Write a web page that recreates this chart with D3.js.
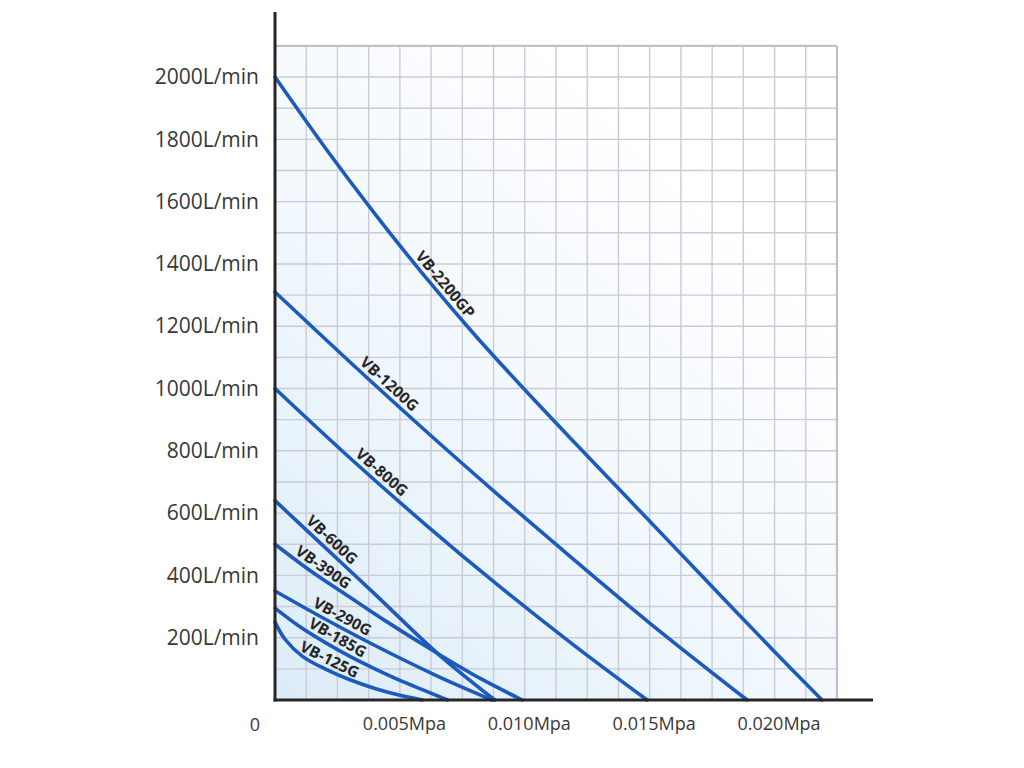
<!DOCTYPE html>
<html>
<head>
<meta charset="utf-8">
<script src="https://cdn.jsdelivr.net/npm/d3@7"></script>
<style>
  html, body { margin: 0; padding: 0; background: #ffffff; }
  svg { display: block; }
</style>
</head>
<body>
<svg id="chart" width="1024" height="768"></svg>
<script>
// ---- data (pressure in MPa, flow in L/min) ----
const seriesNames = ["VB-2200GP", "VB-1200G", "VB-800G", "VB-600G", "VB-390G", "VB-290G", "VB-185G", "VB-125G"];
const vb2200gp = [[0,2000],[0.002,1774],[0.004,1561],[0.006,1360],[0.008,1172],[0.010,996],[0.012,826],[0.014,658],[0.016,490],[0.018,322],[0.020,155],[0.0219,0]];
const vb1200g  = [[0,1310],[0.003,1085],[0.006,866],[0.009,654],[0.012,448],[0.015,247],[0.0189,0]];
const vb800g   = [[0,1000],[0.003,777],[0.006,565],[0.009,364],[0.012,174],[0.0149,0]];
const vb600g   = [[0,640],[0.002,490],[0.004,340],[0.0065,150],[0.0088,0]];
const vb390g   = [[0,500],[0.0015,410],[0.003,330],[0.0045,250],[0.0065,150],[0.0082,70],[0.0099,0]];
const vb290g   = [[0,350],[0.002,260],[0.004,175],[0.0065,77],[0.0087,0]];
const vb185g   = [[0,295],[0.001,235],[0.002,185],[0.003,140],[0.004,100],[0.005,63],[0.006,30],[0.0069,0]];
const vb125g   = [[0,250],[0.0004,195],[0.0011,140],[0.002,100],[0.003,65],[0.004,37],[0.005,15],[0.0059,0]];
const seriesValues = [vb2200gp, vb1200g, vb800g, vb600g, vb390g, vb290g, vb185g, vb125g];
const labelAt = [0.0065, 0.0043, 0.0040, 0.0020, 0.0017, 0.0025, 0.0023, 0.0020]; // MPa where each name sits

const yTickValues = [200,400,600,800,1000,1200,1400,1600,1800,2000];
const yTickLabels = ["200L/min","400L/min","600L/min","800L/min","1000L/min","1200L/min","1400L/min","1600L/min","1800L/min","2000L/min"];
const xTickValues = [0.005, 0.010, 0.015, 0.020];
const xTickLabels = ["0.005Mpa","0.010Mpa","0.015Mpa","0.020Mpa"];
const xMax = 0.0225, yMax = 2100, xStep = 0.00125, yStep = 100;

// ---- layout ----
const svg = d3.select("#chart");
const x = d3.scaleLinear().domain([0, xMax]).range([275, 837]);
const y = d3.scaleLinear().domain([0, yMax]).range([700, 45.9]);

// background gradient
const defs = svg.append("defs");
const grad = defs.append("linearGradient").attr("id","bg")
  .attr("x1","0").attr("y1","1").attr("x2","0.7").attr("y2","0.15");
grad.append("stop").attr("offset","0").attr("stop-color","#dcecf8");
grad.append("stop").attr("offset","0.5").attr("stop-color","#f0f7fc");
grad.append("stop").attr("offset","1").attr("stop-color","#ffffff");

svg.append("rect")
  .attr("x", x(0)).attr("y", y(yMax))
  .attr("width", x(xMax)-x(0)).attr("height", y(0)-y(yMax))
  .attr("fill","url(#bg)");

// grid
const gx = d3.range(1, Math.round(xMax/xStep)+1).map(i => i*xStep);
const gy = d3.range(1, Math.round(yMax/yStep)+1).map(i => i*yStep);
const grid = svg.append("g");
grid.selectAll("line.v").data(gx).join("line")
  .attr("x1", d => x(d)).attr("x2", d => x(d))
  .attr("y1", y(0)).attr("y2", y(yMax))
  .attr("stroke", "#cacbd4").attr("stroke-width", 1.4);
grid.selectAll("line.h").data(gy).join("line")
  .attr("x1", x(0)).attr("x2", x(xMax))
  .attr("y1", d => y(d)).attr("y2", d => y(d))
  .attr("stroke", "#cacbd4").attr("stroke-width", 1.4);
grid.append("line").attr("x1", x(0)).attr("x2", x(xMax)).attr("y1", y(yMax)).attr("y2", y(yMax))
  .attr("stroke","#bfc0c8").attr("stroke-width",2.2);
grid.append("line").attr("x1", x(xMax)).attr("x2", x(xMax)).attr("y1", y(0)).attr("y2", y(yMax))
  .attr("stroke","#bfc0c8").attr("stroke-width",2.2);

// curves
const line = d3.line().x(d => x(d[0])).y(d => y(d[1])).curve(d3.curveCatmullRom.alpha(0.5));
svg.append("g").selectAll("path").data(seriesValues).join("path")
  .attr("d", line)
  .attr("fill","none")
  .attr("stroke","#1c5bbd")
  .attr("stroke-width",3.6)
  .attr("stroke-linecap","round");

// axes lines
svg.append("line").attr("x1", x(0)).attr("x2", x(0)).attr("y1", 12).attr("y2", y(0)+1.5)
  .attr("stroke","#262626").attr("stroke-width",3);
svg.append("line").attr("x1", x(0)-1.5).attr("x2", 873).attr("y1", y(0)).attr("y2", y(0))
  .attr("stroke","#262626").attr("stroke-width",3);

// axis tick labels via d3 axes (no domain / tick marks drawn)
const yAxis = d3.axisLeft(y).tickValues(yTickValues).tickFormat((d,i) => yTickLabels[i]).tickSize(0).tickPadding(16);
const gY = svg.append("g").attr("transform", `translate(${x(0)},0)`).call(yAxis);
gY.select(".domain").remove();
gY.selectAll("text").attr("font-family","'Open Sans', sans-serif").attr("font-size",21).attr("fill","#383838");

const xAxis = d3.axisBottom(x).tickValues(xTickValues).tickFormat((d,i) => xTickLabels[i]).tickSize(0).tickPadding(17);
const gX = svg.append("g").attr("transform", `translate(4,${y(0)})`).call(xAxis);
gX.select(".domain").remove();
gX.selectAll("text").attr("font-family","'Open Sans', sans-serif").attr("font-size",18).attr("fill","#383838");

svg.append("text").attr("x", x(0)-20).attr("y", y(0)+31).attr("text-anchor","middle")
  .attr("font-family","'Open Sans', sans-serif").attr("font-size",18).attr("fill","#383838").text("0");

// series labels along curves
function interp(pts, xv) {
  for (let i = 1; i < pts.length; i++) {
    if (xv <= pts[i][0]) {
      const t = (xv - pts[i-1][0]) / (pts[i][0] - pts[i-1][0]);
      return pts[i-1][1] + t*(pts[i][1]-pts[i-1][1]);
    }
  }
  return pts[pts.length-1][1];
}
const lab = svg.append("g");
seriesNames.forEach((name, i) => {
  const pts = seriesValues[i];
  const xv = labelAt[i];
  const w = 0.0009;
  const p0 = [x(Math.max(0, xv - w)), y(interp(pts, Math.max(0, xv - w)))];
  const p1 = [x(xv + w), y(interp(pts, xv + w))];
  const ang = Math.atan2(p1[1]-p0[1], p1[0]-p0[0]);
  const px = x(xv), py = y(interp(pts, xv));
  const off = 11;
  const cx = px + Math.sin(ang)*off, cy = py - Math.cos(ang)*off;
  lab.append("text")
    .attr("transform", `translate(${cx},${cy}) rotate(${ang*180/Math.PI})`)
    .attr("text-anchor","middle").attr("dominant-baseline","central")
    .attr("font-family","'Open Sans', sans-serif").attr("font-weight",700)
    .attr("font-size",15.5).attr("fill","#262626")
    .text(name);
});
</script>
</body>
</html>
